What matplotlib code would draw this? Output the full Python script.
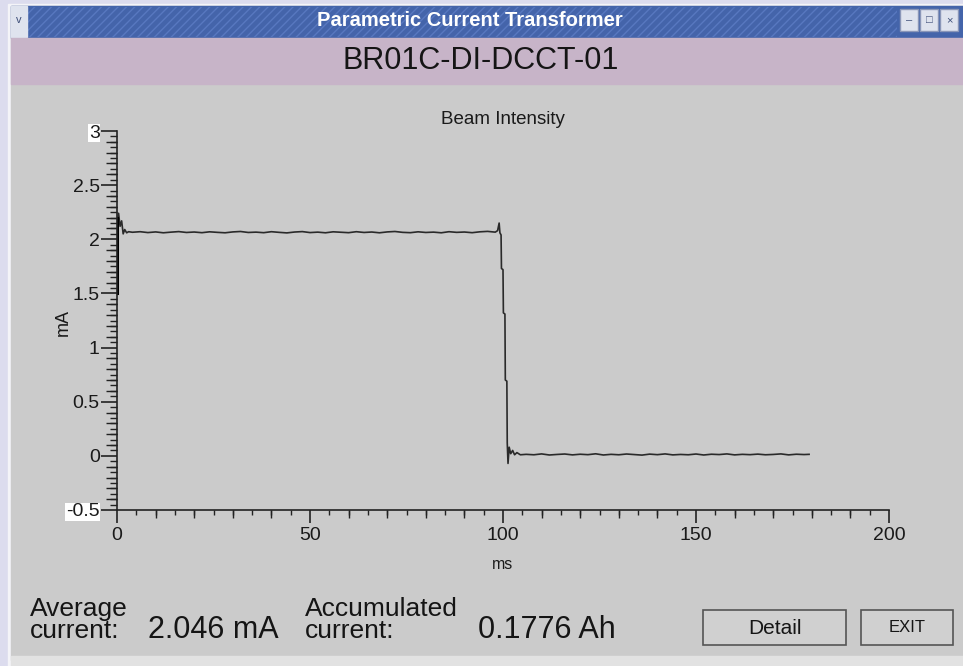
import matplotlib.pyplot as plt
from matplotlib.patches import Rectangle
from matplotlib.ticker import MultipleLocator, FixedLocator

plt.rcParams['font.family'] = ['Liberation Sans', 'DejaVu Sans']

# beam current trace, DCCT readout (ms, mA)
time_ms = [
    0.0, 0.0, 0.4, 0.8, 1.2, 1.6, 2.0, 2.5, 3.0,
    4, 6, 8, 10, 12, 14, 16, 18, 20, 22,
    24, 26, 28, 30, 32, 34, 36, 38, 40, 42,
    44, 46, 48, 50, 52, 54, 56, 58, 60, 62,
    64, 66, 68, 70, 72, 74, 76, 78, 80, 82,
    84, 86, 88, 90, 92, 94, 96, 98,
    98.6, 99.0, 99.2, 99.5, 99.6, 100.0, 100.1, 100.5, 100.6, 101.0,
    101.1, 101.3, 101.6, 102.0, 102.5, 103.0, 103.6, 104.5,
    106, 108, 110, 112, 114, 116, 118, 120, 122, 124,
    126, 128, 130, 132, 134, 136, 138, 140, 142, 144,
    146, 148, 150, 152, 154, 156, 158, 160, 162, 164,
    166, 168, 170, 172, 174, 176, 178, 179.3,
]
current_ma = [
    1.50, 2.10, 2.24, 2.12, 2.17, 2.05, 2.09, 2.06, 2.07,
    2.065, 2.070, 2.062, 2.068, 2.060, 2.066, 2.071, 2.063, 2.067, 2.061,
    2.069, 2.064, 2.060, 2.068, 2.072, 2.063, 2.066, 2.061, 2.070, 2.064,
    2.059, 2.067, 2.071, 2.062, 2.066, 2.060, 2.069, 2.065, 2.061, 2.070,
    2.063, 2.067, 2.060, 2.068, 2.072, 2.064, 2.061, 2.069, 2.063, 2.066,
    2.060, 2.070, 2.064, 2.067, 2.061, 2.069, 2.073, 2.066,
    2.08, 2.15, 2.06, 2.04, 1.73, 1.72, 1.32, 1.31, 0.70, 0.69,
    0.12, -0.07, 0.08, 0.02, 0.05, 0.01, 0.03, 0.01,
    0.014, 0.010, 0.018, 0.008, 0.013, 0.017, 0.009, 0.015, 0.011, 0.019,
    0.008, 0.014, 0.010, 0.017, 0.012, 0.007, 0.016, 0.011, 0.018, 0.009,
    0.013, 0.010, 0.017, 0.008, 0.015, 0.012, 0.018, 0.009, 0.014, 0.011,
    0.016, 0.010, 0.013, 0.018, 0.009, 0.015, 0.012, 0.014,
]

x_ticks = [0, 50, 100, 150, 200]
y_ticks = [-0.5, 0, 0.5, 1, 1.5, 2, 2.5, 3]
y_tick_labels = ['-0.5', '0', '0.5', '1', '1.5', '2', '2.5', '3']

window_title = 'Parametric Current Transformer'
device_name = 'BR01C-DI-DCCT-01'
avg_current = '2.046 mA'
acc_current = '0.1776 Ah'

W, H = 963, 666
INK = '#1a1a1a'
fig = plt.figure(figsize=(W / 100, H / 100), dpi=100)

# window chrome drawn in pixel coordinates
bg = fig.add_axes([0, 0, 1, 1])
bg.set_xlim(0, W)
bg.set_ylim(H, 0)
bg.axis('off')
bg.add_patch(Rectangle((0, 0), W, H, color='#dcdcee'))
bg.add_patch(Rectangle((8, 4), W - 8, H - 4, color='#f4f4f8'))
bg.add_patch(Rectangle((11, 6), W - 11, H - 12, color='#cbcbcb'))
bg.add_patch(Rectangle((11, 6), W - 11, 32, color='#4464aa'))
bg.add_patch(Rectangle((27, 7), 870, 30, facecolor='none', edgecolor='#5878c0',
                       hatch='////', linewidth=0))
bg.add_patch(Rectangle((11, 6), 16, 31, color='#dfe3ee'))
bg.text(19, 20, 'v', ha='center', va='center', fontsize=8, color='#40507a')
for bx, sym in [(900, '\u2013'), (920, '\u25a1'), (940, '\u00d7')]:
    bg.add_patch(Rectangle((bx, 9), 18, 22, facecolor='#dfe3ee', edgecolor='#8a96b8'))
    bg.text(bx + 9, 20, sym, ha='center', va='center', fontsize=8, color='#40507a')
bg.text(470, 20, window_title, ha='center', va='center', fontsize=14.5,
        fontweight='bold', color='white')
bg.add_patch(Rectangle((11, 38), W - 11, 46, color='#c7b4c8'))
bg.text(481, 61, device_name, ha='center', va='center', fontsize=22, color='#151515')
bg.add_patch(Rectangle((11, 656), W - 11, 10, color='#e2e2e2'))

# readout line at the bottom
bg.text(30, 620, 'Average\ncurrent:', ha='left', va='center', fontsize=19,
        linespacing=0.88, color='#151515')
bg.text(148, 630, avg_current, ha='left', va='center', fontsize=22, color='#151515')
bg.text(305, 620, 'Accumulated\ncurrent:', ha='left', va='center', fontsize=19,
        linespacing=0.88, color='#151515')
bg.text(478, 630, acc_current, ha='left', va='center', fontsize=22, color='#151515')
for x0, w, label, fs in [(703, 143, 'Detail', 15), (861, 92, 'EXIT', 12)]:
    bg.add_patch(Rectangle((x0, 610), w, 35, facecolor='#d0d0d0', edgecolor='#555555',
                           linewidth=1.2))
    bg.text(x0 + w / 2, 628, label, ha='center', va='center', fontsize=fs, color='#151515')

# plot area
ax = fig.add_axes([117 / W, 1 - 510 / H, (889 - 117) / W, (510 - 131) / H])
ax.patch.set_alpha(0)
ax.plot(time_ms, current_ma, color='#2a2a2a', linewidth=1.2)
ax.plot([0, 0], [1.5, 2.2], color='black', linewidth=2.2)

ax.set_xlim(0, 200)
ax.set_ylim(-0.5, 3)
for side in ['top', 'right']:
    ax.spines[side].set_visible(False)
for side in ['left', 'bottom']:
    ax.spines[side].set_color('#222222')
    ax.spines[side].set_linewidth(1.2)

ax.set_xticks(x_ticks)
ax.set_yticks(y_ticks)
ax.set_yticklabels(y_tick_labels)
ax.xaxis.set_minor_locator(MultipleLocator(5))
ax.yaxis.set_minor_locator(MultipleLocator(0.05))
ax.tick_params(which='major', direction='out', width=1.2, color='#222222',
               labelsize=14, labelcolor=INK)
ax.tick_params(axis='x', which='major', length=9.5, pad=3)
ax.tick_params(axis='y', which='major', length=11.5, pad=1)
ax.tick_params(axis='x', which='minor', direction='out', length=3.5, width=1.0, color='#222222')
ax.tick_params(axis='y', which='minor', direction='out', length=5, width=1.0, color='#222222')

# intermediate-length ticks at every 10 ms / 0.1 mA
sx = ax.secondary_xaxis('bottom')
sx.xaxis.set_major_locator(FixedLocator([v for v in range(10, 200, 10) if v % 50]))
sx.tick_params(length=6, width=1.0, color='#222222', labelbottom=False)
sx.spines['bottom'].set_visible(False)
sy = ax.secondary_yaxis('left')
sy.yaxis.set_major_locator(FixedLocator([k / 10 for k in range(-4, 30) if k % 5]))
sy.tick_params(length=8, width=1.0, color='#222222', labelleft=False)
sy.spines['left'].set_visible(False)

for lab in (ax.get_yticklabels()[0], ax.get_yticklabels()[-1]):
    lab.set_bbox(dict(facecolor='white', edgecolor='none', pad=0.5))

ax.set_title('Beam Intensity', fontsize=13.5, color=INK, pad=5)
ax.set_xlabel('ms', fontsize=11.5, color=INK, labelpad=9)
ax.set_ylabel('mA', fontsize=13, color=INK)
ax.yaxis.set_label_coords(72 / W, 1 - 322 / H, transform=fig.transFigure)

fig.savefig('out.png', dpi=100)
